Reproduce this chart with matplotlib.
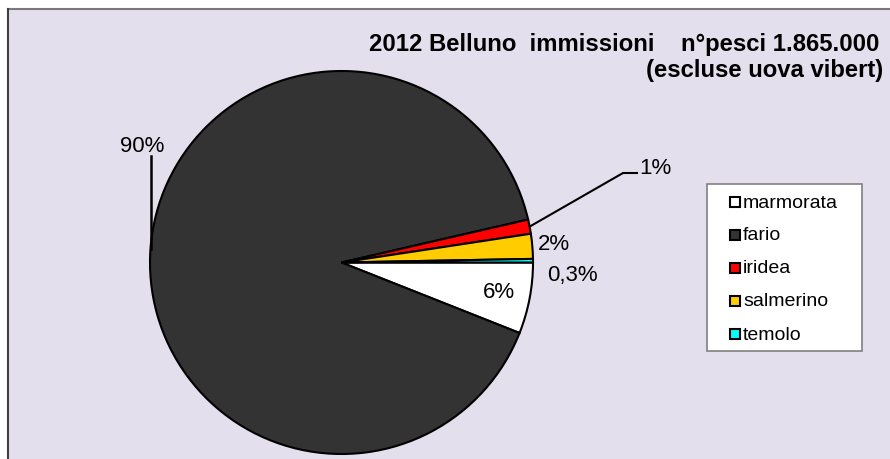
import matplotlib
matplotlib.use("Agg")
import matplotlib.pyplot as plt
from matplotlib.patches import Rectangle
from matplotlib.lines import Line2D
import numpy as np

plt.rcParams['font.family'] = ['Liberation Sans', 'DejaVu Sans']

# ---- data ----
species = ["marmorata", "fario", "iridea", "salmerino", "temolo"]
shares = [6.0, 90.4, 1.2, 2.1, 0.3]
pct_labels = ["6%", "90%", "1%", "2%", "0,3%"]
colors = ["#FFFFFF", "#333333", "#FF0000", "#FFCC00", "#00FFFF"]
title_line1 = "2012 Belluno  immissioni    n°pesci 1.865.000"
title_line2 = "(escluse uova vibert)"

W, H = 890, 460
fig = plt.figure(figsize=(W / 100, H / 100), dpi=100, facecolor="white")

def fx(px):
    return px / W

def fy(py):
    return 1 - py / H

# chart area background + border
fig.add_artist(Rectangle((fx(8), 0), 1 - fx(8), fy(10), transform=fig.transFigure,
                         facecolor="#E4DFEC", edgecolor="none", zorder=0))
fig.add_artist(Line2D([fx(8), 1], [fy(10), fy(10)], transform=fig.transFigure,
                      color="#7a7a7a", lw=1.5, zorder=1))
fig.add_artist(Line2D([fx(8), fx(8)], [0, fy(10)], transform=fig.transFigure,
                      color="#404040", lw=1.5, zorder=1))

# pie axes
cx, cy, R = 341.5, 263.5, 191.5
ax = fig.add_axes([(cx - R) / W, (H - cy - R) / H, 2 * R / W, 2 * R / H])
ax.set_facecolor("none")
wedges, _ = ax.pie(shares, colors=colors, startangle=0, counterclock=False,
                   radius=1.0, wedgeprops=dict(edgecolor="black", linewidth=1.5))
ax.set_xlim(-1, 1)
ax.set_ylim(-1, 1)
ax.axis("off")

def d(px, py):
    return ((px - cx) / R, (cy - py) / R)

# percentage labels
label_pos = [(499, 293), (142, 146), (655, 168), (554, 245), (572, 275)]
for lab, (px, py) in zip(pct_labels, label_pos):
    x, y = d(px, py)
    ax.text(x, y, lab, ha="center", va="center", fontsize=16, clip_on=False)

# leader lines
# fario (90%)
x0, y0 = d(151, 250)
x1, y1 = d(151, 157)
ax.plot([x0, x1], [y0, y1], color="black", lw=1.8, clip_on=False)
# iridea (1%)
th = np.deg2rad(wedges[2].theta1 + (wedges[2].theta2 - wedges[2].theta1) * 0.5)
ex, ey = np.cos(th), np.sin(th)
xa, ya = d(623, 174)
xb, yb = d(637, 174)
ax.plot([ex, xa, xb], [ey, ya, yb], color="black", lw=1.5, clip_on=False)

# title
fig.text(fx(879), fy(45), title_line1, ha="right", va="center",
         fontsize=17.2, fontweight="bold")
fig.text(fx(883), fy(70), title_line2, ha="right", va="center",
         fontsize=17.2, fontweight="bold")

# legend (manual)
lx0, ly0, lx1, ly1 = 707, 185, 862, 352
fig.add_artist(Rectangle((fx(lx0), fy(ly1)), fx(lx1) - fx(lx0), fy(ly0) - fy(ly1),
                         transform=fig.transFigure, facecolor="white",
                         edgecolor="#808080", lw=1.2, zorder=2))
row0, step = 203, 33
for i, (name, col) in enumerate(zip(species, colors)):
    yc = row0 + i * step
    fig.add_artist(Rectangle((fx(730), fy(yc + 5)), 10 / W, 10 / H,
                             transform=fig.transFigure, facecolor=col,
                             edgecolor="black", lw=1.5, zorder=3))
    fig.text(fx(743), fy(yc), name, ha="left", va="center", fontsize=14, zorder=3)

fig.savefig("out.png", dpi=100, facecolor=fig.get_facecolor())
